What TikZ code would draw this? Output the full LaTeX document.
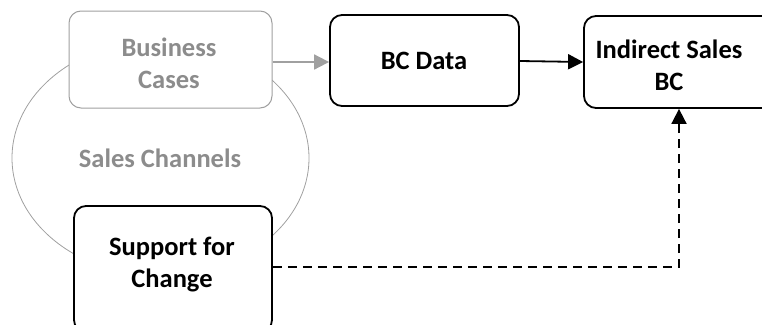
\documentclass[tikz,border=0pt]{standalone}
\usepackage{fontspec}
\setmainfont{Carlito}
\usetikzlibrary{shapes.geometric,arrows.meta}
\definecolor{lgray}{RGB}{160,160,160}
\definecolor{tgray}{RGB}{140,140,140}
\tikzset{
  box/.style={draw=black,line width=1.8pt,rounded corners=12pt,fill=white},
  gbox/.style={draw=lgray,line width=1pt,rounded corners=12pt,fill=white},
  lbl/.style={font=\fontsize{26.5}{32}\selectfont\bfseries,align=center,inner sep=0pt},
  arr/.style={-{Triangle[length=15pt,width=15pt]}},
}
\begin{document}
\begin{tikzpicture}[x=1pt,y=-1pt]
\useasboundingbox (0,0) rectangle (762,324);
\clip (0,0) rectangle (762,324);
% ellipse
\node[draw=lgray,line width=0.8pt,ellipse,minimum width=297pt,minimum height=236pt,inner sep=0pt] (ell) at (160.5,158) {};
\node[lbl,text=tgray] (sc) at (160,158) {Sales Channels};
% boxes
\node[gbox,minimum width=203pt,minimum height=97pt] (bc) at (170.5,59.5) {};
\node[lbl,text=tgray] (bct) at (169,63) {Business\\Cases};
\node[box,minimum width=198pt,minimum height=126pt] (sup) at (173,269) {};
\node[lbl] (supt) at (172,265) {Support for\\Change};
\node[box,minimum width=189pt,minimum height=91pt] (bcd) at (424.5,60.5) {};
\node[lbl] (bcdt) at (424,61) {BC Data};
\node[box,minimum width=190pt,minimum height=92pt] (ind) at (679,62) {};
\node[lbl] (indt) at (669,65) {Indirect Sales\\BC};
\coordinate (corner) at (679,267);
% connectors
\draw[arr,draw=lgray,fill=lgray,line width=1.8pt] (bc.east |- 0,62) -- (bcd.west |- 0,62);
\draw[arr,line width=1.8pt] (bcd.east |- 0,61) -- (ind.west |- 0,62);
\draw[arr,line width=1.8pt,dash pattern=on 9pt off 6pt] (sup.east |- corner) -- (corner) -- (corner |- ind.south);
\end{tikzpicture}
\end{document}
